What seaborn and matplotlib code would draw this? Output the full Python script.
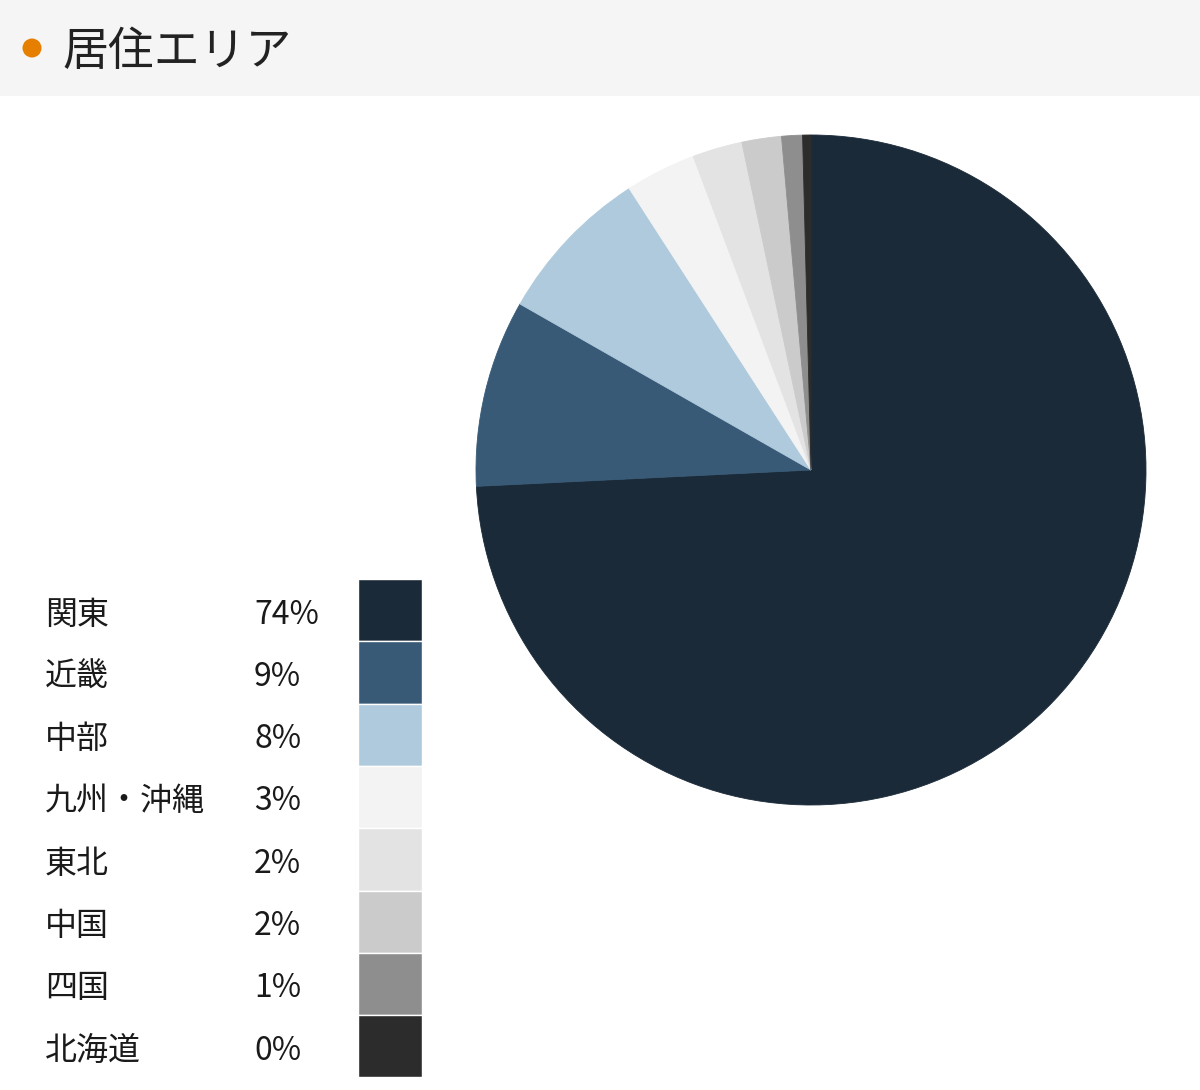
import matplotlib
matplotlib.use("Agg")
import matplotlib.pyplot as plt
import matplotlib.transforms as mtransforms
from matplotlib.patches import Rectangle, Circle
import seaborn as sns
import pandas as pd

# data
regions = ["関東", "近畿", "中部", "九州・沖縄", "東北", "中国", "四国", "北海道"]
shares = [74.0, 9.0, 7.6, 3.4, 2.4, 1.9, 1.0, 0.4]
colors = ["#1b2a38", "#385a77", "#aecadc", "#f3f3f3",
          "#e3e3e3", "#cbcbcb", "#8e8e8e", "#2c2c2c"]
title = "居住エリア"

sns.set_theme(style="white")
plt.rcParams['font.family'] = ['Noto Sans CJK JP', 'DejaVu Sans']

W, H = 1200, 1090
fig = plt.figure(figsize=(W / 100, H / 100), dpi=100)
fig.patch.set_facecolor("white")

def fx(px):
    return px / W

def fy(py):
    return 1 - py / H

# header band + orange dot
head = fig.add_axes([0, fy(96), 1, 96 / H], zorder=-5)
head.set_facecolor("#f5f5f5")
head.set_xlim(0, W)
head.set_ylim(96, 0)
head.set_xticks([])
head.set_yticks([])
for s in head.spines.values():
    s.set_visible(False)
head.add_patch(Circle((32, 48), 9.5, facecolor="#e67e00", edgecolor="none"))
head.text(62, 52, title, fontsize=33, color="#222222", va="center", ha="left")

# pie
cx, cy, r = 811, 470, 335
ax = fig.add_axes([fx(cx - r), fy(cy + r), 2 * r / W, 2 * r / H])
ax.pie(shares, colors=colors, startangle=90, counterclock=False, radius=1,
       wedgeprops={"linewidth": 0.6})
for w, c in zip(ax.patches, colors):
    w.set_edgecolor(c)
ax.set_xlim(-1, 1)
ax.set_ylim(-1, 1)
ax.set_aspect("equal")
ax.axis("off")

# legend swatches with seaborn
df = pd.DataFrame({"region": regions, "share": shares, "one": [1] * len(regions)})
top, row_h = 579, 62.3
n = len(regions)
lax = fig.add_axes([fx(358), fy(top + n * row_h), 64 / W, n * row_h / H])
sns.barplot(data=df, y="region", x="one", hue="region", palette=colors,
            order=regions, hue_order=regions, width=1.0, legend=False,
            orient="h", saturation=1, ax=lax)
lax.set_xlim(0, 1)
lax.set_ylim(n - 0.5, -0.5)
lax.axis("off")

tr = mtransforms.blended_transform_factory(fig.transFigure, lax.transData)
for i, (name, val) in enumerate(zip(regions, shares)):
    lax.text(fx(45), i + 0.07, name, transform=tr, fontsize=23, color="#1a1a1a",
             va="center", ha="left")
    lax.text(fx(254), i + 0.07, f"{round(val)}%", transform=tr, fontsize=23,
             color="#1a1a1a", va="center", ha="left")

fig.savefig("out.png", dpi=100)
